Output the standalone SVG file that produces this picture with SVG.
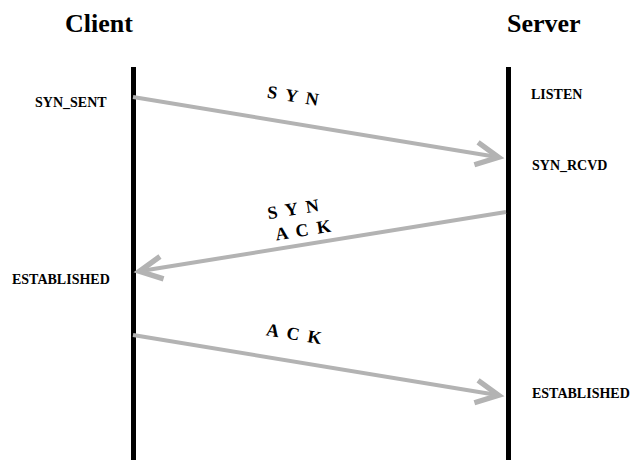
<svg xmlns="http://www.w3.org/2000/svg" width="634" height="460" viewBox="0 0 634 460">
  <style>
    text { font-family: "Liberation Serif", "DejaVu Serif", serif; font-weight: bold; fill: #000; }
    .title { font-size: 26px; }
    .state { font-size: 14px; }
    .msg { font-size: 18px; letter-spacing: 2px; text-anchor: middle; }
    .lifeline { fill: #000; }
    .arrow { stroke: #b3b3b3; stroke-width: 4; fill: none; }
  </style>
  <defs>
    <marker id="head" markerUnits="userSpaceOnUse" markerWidth="40" markerHeight="40" viewBox="-25 -15 30 30" refX="0" refY="0" orient="auto" overflow="visible">
      <path d="M-17,-8.5 L0,0 L-17,8.5" fill="none" stroke="#b3b3b3" stroke-width="4" stroke-linejoin="miter" stroke-miterlimit="10"/>
    </marker>
  </defs>

  <rect width="634" height="460" fill="#fff"/>

  <!-- client side -->
  <g id="client">
    <text class="title" x="65" y="32">Client</text>
    <rect class="lifeline" x="131" y="67" width="5" height="393"/>
    <text class="state" x="35" y="107">SYN_SENT</text>
    <text class="state" x="12" y="284">ESTABLISHED</text>
  </g>

  <!-- server side -->
  <g id="server">
    <text class="title" x="507" y="32">Server</text>
    <rect class="lifeline" x="506" y="67" width="5" height="393"/>
    <text class="state" x="531" y="99">LISTEN</text>
    <text class="state" x="532" y="170">SYN_RCVD</text>
    <text class="state" x="532" y="398">ESTABLISHED</text>
  </g>

  <!-- handshake messages -->
  <g id="connectors">
    <line class="arrow" x1="133" y1="97" x2="498.6" y2="157.3" marker-end="url(#head)"/>
    <line class="arrow" x1="506" y1="212" x2="139.4" y2="271.3" marker-end="url(#head)"/>
    <line class="arrow" x1="133" y1="335" x2="498.6" y2="395.3" marker-end="url(#head)"/>

    <text class="msg" transform="translate(294,96) rotate(9.3)" y="6">S Y N</text>
    <text class="msg" transform="translate(294,209) rotate(-9.2)" y="6">S Y N</text>
    <text class="msg" transform="translate(304,230) rotate(-9.2)" y="6">A C K</text>
    <text class="msg" transform="translate(295,334) rotate(9.3)" y="6">A C K</text>
  </g>
</svg>
